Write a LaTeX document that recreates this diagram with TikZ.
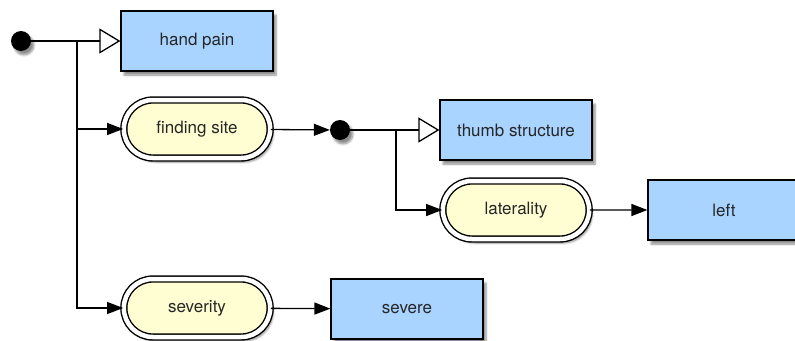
\documentclass[tikz,border=0pt]{standalone}
\usepackage{fontspec}
\setmainfont{TeX Gyre Heros}
\usepackage{tikz}
\usetikzlibrary{arrows.meta,positioning,shapes.misc,shadows.blur}
\definecolor{valblue}{RGB}{168,212,255}
\definecolor{attryellow}{RGB}{255,253,210}
\tikzset{
  shade/.style={blur shadow={shadow xshift=3pt, shadow yshift=-4pt, shadow opacity=45, shadow blur steps=6}},
  value/.style={draw, line width=1.2pt, fill=valblue, minimum width=152pt, minimum height=60pt, shade},
  attr/.style={rounded rectangle, draw, line width=1.4pt, double=white, double distance=4.5pt, fill=attryellow, minimum width=153pt, minimum height=58pt, shade},
  start/.style={circle, fill=black, minimum size=20pt, inner sep=0pt, shade},
  isa/.style={-{Triangle[open, length=21pt, width=25pt, fill=white]}, line width=1.3pt},
  arr/.style={-{Triangle[length=16pt, width=12pt]}, line width=1.3pt}}
\begin{document}
\begin{tikzpicture}[x=1pt, y=-1pt, font=\fontsize{17}{20}\selectfont, text=black!85]
  \useasboundingbox (0,0) rectangle (795,340);
  % top level
  \node[start] (dot1) at (21,41) {};
  \node[value] (hand) at (197,41) {hand pain};
  \node[attr] (site) at (197,129) {finding site};
  \node[attr] (sev) at (197,308) {severity};
  \node[value] (severe) at (407,309) {severe};
  % refinement of the finding site
  \node[start] (dot2) at (340,130) {};
  \node[value] (thumb) at (516,130) {thumb structure};
  \node[attr] (lat) at (516,210) {laterality};
  \node[value] (left) at (724,210) {left};
  \coordinate (j1) at (77,41);
  \coordinate (j2) at (396,130);
  % connectors
  \draw[isa] (dot1) -- (hand);
  \draw[arr] (j1) |- (site);
  \draw[arr] (j1) |- (sev);
  \draw[arr] (sev) -- (severe);
  \draw[arr] (site) -- (dot2);
  \draw[isa] (dot2) -- (thumb);
  \draw[arr] (j2) |- (lat);
  \draw[arr] (lat) -- (left);
\end{tikzpicture}
\end{document}
